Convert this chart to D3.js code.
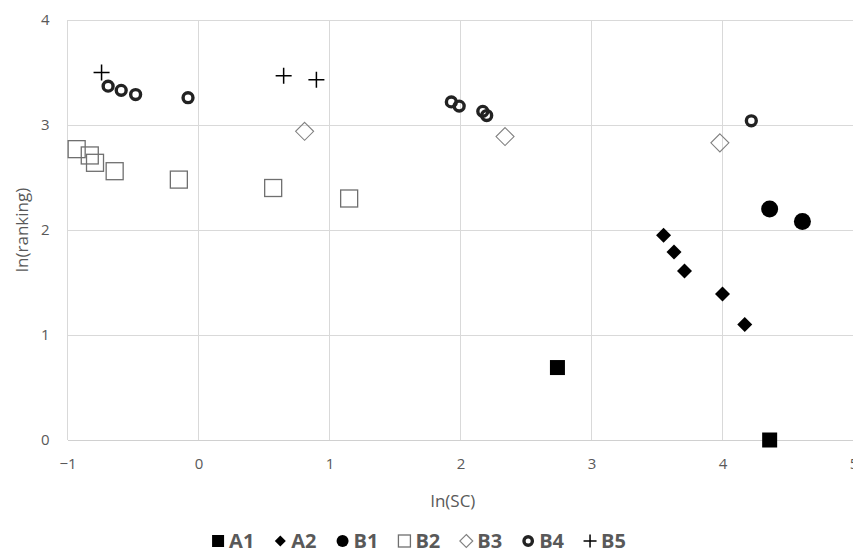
<!DOCTYPE html>
<html><head><meta charset="utf-8">
<script src="https://cdn.jsdelivr.net/npm/d3@7"></script>
<style>body{margin:0;background:#fff}svg{display:block}text{font-family:"Open Sans",sans-serif}</style>
</head><body><svg id="c" width="853" height="554"></svg>
<script>
const seriesNames = ["A1","A2","B1","B2","B3","B4","B5"];
const xA1 = [2.74, 4.36];
const yA1 = [0.69, 0.00];
const xA2 = [3.55, 3.63, 3.71, 4.00, 4.17];
const yA2 = [1.95, 1.79, 1.61, 1.39, 1.10];
const xB1 = [4.36, 4.61];
const yB1 = [2.20, 2.08];
const xB2 = [-0.93, -0.83, -0.79, -0.64, -0.15, 0.57, 1.15];
const yB2 = [2.77, 2.71, 2.64, 2.56, 2.48, 2.40, 2.30];
const xB3 = [0.81, 2.34, 3.98];
const yB3 = [2.94, 2.89, 2.83];
const xB4 = [-0.69, -0.59, -0.48, -0.08, 1.93, 1.99, 2.17, 2.20, 4.22];
const yB4 = [3.37, 3.33, 3.29, 3.26, 3.22, 3.18, 3.13, 3.09, 3.04];
const xB5 = [-0.74, 0.65, 0.90];
const yB5 = [3.50, 3.47, 3.43];
const xTicks = [-1, 0, 1, 2, 3, 4, 5];
const yTicks = [0, 1, 2, 3, 4];

const svg = d3.select("#c");
const x = d3.scaleLinear().domain([-1, 5]).range([67.5, 853.5]);
const y = d3.scaleLinear().domain([0, 4]).range([440, 20]);

// gridlines
svg.append("g").selectAll("line").data(yTicks).join("line")
  .attr("x1", x(-1)).attr("x2", 853).attr("y1", d => y(d)).attr("y2", d => y(d))
  .attr("stroke", "#d9d9d9").attr("stroke-width", 1).attr("shape-rendering","crispEdges");
svg.append("g").selectAll("line").data(xTicks).join("line")
  .attr("x1", d => x(d)).attr("x2", d => x(d)).attr("y1", y(4)).attr("y2", y(0))
  .attr("stroke", "#d9d9d9").attr("stroke-width", 1).attr("shape-rendering","crispEdges");

// axes
const xAxis = svg.append("g").attr("transform", `translate(0,${y(0)})`)
  .call(d3.axisBottom(x).tickValues(xTicks).tickSize(0).tickPadding(18).tickFormat(d3.format("d")));
xAxis.select(".domain").attr("stroke", "#d0d0d0");
xAxis.selectAll("text").attr("fill", "#595959").style("font-size", "15px").style("font-family", '"Open Sans",sans-serif');
const yAxis = svg.append("g").attr("transform", `translate(${x(-1)},0)`)
  .call(d3.axisLeft(y).tickValues(yTicks).tickSize(0).tickPadding(18).tickFormat(d3.format("d")));
yAxis.select(".domain").remove();
yAxis.selectAll("text").attr("fill", "#595959").style("font-size", "15px").style("font-family", '"Open Sans",sans-serif');

// titles
svg.append("text").attr("x", 453).attr("y", 507).attr("text-anchor", "middle")
  .attr("fill", "#595959").style("font-size", "17px").text("ln(SC)");
svg.append("text").attr("transform", "translate(28,230) rotate(-90)").attr("text-anchor", "middle")
  .attr("fill", "#595959").style("font-size", "17px").text("ln(ranking)");

// marker drawers
const sym = {
  A1: (g, s) => g.append("rect").attr("x", -s/2).attr("y", -s/2).attr("width", s).attr("height", s).attr("fill", "#000"),
  A2: (g, s) => g.append("path").attr("d", `M0,${-s/2}L${s/2},0L0,${s/2}L${-s/2},0Z`).attr("fill", "#000"),
  B1: (g, s) => g.append("circle").attr("r", s/2).attr("fill", "#000"),
  B2: (g, s) => g.append("rect").attr("x", -s/2).attr("y", -s/2).attr("width", s).attr("height", s).attr("fill", "none").attr("stroke", "#6f6f6f").attr("stroke-width", 1.3),
  B3: (g, s) => g.append("path").attr("d", `M0,${-s/2}L${s/2},0L0,${s/2}L${-s/2},0Z`).attr("fill", "none").attr("stroke", "#808080").attr("stroke-width", 1.1),
  B4: (g, s) => g.append("circle").attr("r", s/2 - 1.8).attr("fill", "none").attr("stroke", "#222").attr("stroke-width", 3.4),
  B5: (g, s) => g.append("path").attr("d", `M${-s/2},0H${s/2}M0,${-s/2}V${s/2}`).attr("fill", "none").attr("stroke", "#000").attr("stroke-width", 1.5)
};
const sizes = {A1: 15, A2: 15, B1: 17, B2: 17, B3: 18, B4: 13.5, B5: 16};
const data = {
  A1: d3.zip(xA1, yA1), A2: d3.zip(xA2, yA2), B1: d3.zip(xB1, yB1), B2: d3.zip(xB2, yB2),
  B3: d3.zip(xB3, yB3), B4: d3.zip(xB4, yB4), B5: d3.zip(xB5, yB5)
};
seriesNames.forEach(n => {
  data[n].forEach(([vx, vy]) => {
    const g = svg.append("g").attr("transform", `translate(${x(vx)},${y(vy)})`);
    sym[n](g, sizes[n]);
  });
});

// legend
const legSizes = {A1: 12, A2: 11, B1: 12, B2: 12, B3: 13, B4: 12, B5: 13};
const leg = svg.append("g");
let cx = 0;
seriesNames.forEach(n => {
  const g = leg.append("g");
  const m = g.append("g");
  sym[n](m, legSizes[n]);
  const t = g.append("text").attr("x", 11).attr("y", 7).attr("fill", "#595959")
    .style("font-size", "20px").style("font-weight", "bold").text(n);
  const w = 11 + t.node().getComputedTextLength();
  g.attr("transform", `translate(${cx + 6},0)`);
  cx += w + 6 + 20;
});
const totalW = cx - 20;
leg.attr("transform", `translate(${419 - totalW/2},541)`);
</script></body></html>
